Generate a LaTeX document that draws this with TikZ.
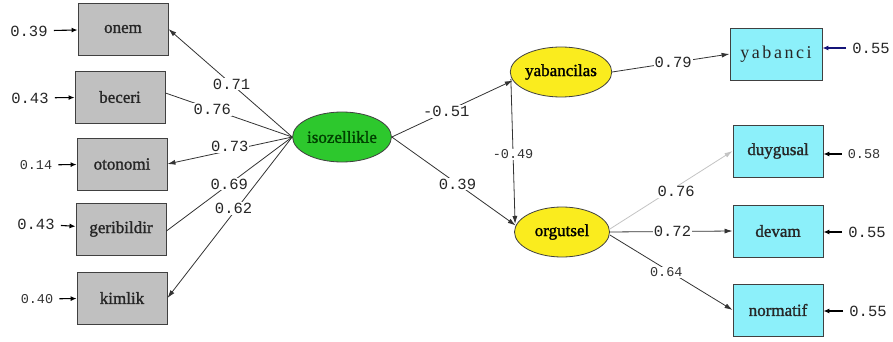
\documentclass[tikz,border=0pt]{standalone}
\usepackage{fontspec}
\setmainfont{Liberation Serif}
\newfontfamily\monof{Liberation Mono}
\newfontfamily\labf[FakeBold=1.3]{Liberation Serif}
\newfontfamily\wideserif[LetterSpace=14]{Liberation Serif}
\usetikzlibrary{shapes.geometric,arrows.meta,calc}
\definecolor{boxgray}{RGB}{192,192,192}
\definecolor{boxcyan}{RGB}{140,240,250}
\definecolor{latgreen}{RGB}{45,200,45}
\definecolor{latyellow}{RGB}{250,236,30}
\definecolor{lightline}{RGB}{195,195,195}
\definecolor{navyarrow}{RGB}{20,20,120}
\begin{document}
\begin{tikzpicture}[x=1pt,y=-1pt,
  obs/.style={draw=black!75, line width=0.9pt, fill=boxgray, minimum width=90pt, minimum height=52pt, inner sep=0pt, font=\labf\fontsize{17}{19}\selectfont, text=black!85},
  obsc/.style={obs, fill=boxcyan},
  lat/.style={ellipse, draw=black!75, line width=0.8pt, minimum width=95pt, minimum height=50pt, inner sep=0pt, font=\labf\fontsize{17}{19}\selectfont},
  numL/.style={font=\monof\fontsize{15.5}{17}\selectfont, text=black!85, inner sep=1pt},
  numS/.style={font=\monof\fontsize{13.5}{15}\selectfont, text=black!80, inner sep=1pt},
  lab/.style={fill=white, inner sep=1.5pt},
  path/.style={draw=black!80, line width=0.8pt},
  arr/.style={path, -{Latex[length=8pt,width=5pt]}},
  errarr/.style={draw=black, line width=1.1pt, -{Latex[length=6pt,width=5pt]}, shorten <=5pt}
]
\useasboundingbox (0,0) rectangle (893,342);

% observed variables, left
\node[obs] (onem) at (123,29) {onem};
\node[obs] (beceri) at (120,97) {beceri};
\node[obs] (otonomi) at (122,164) {otonomi};
\node[obs] (geri) at (121,229) {geribildir};
\node[obs] (kimlik) at (122,298) {kimlik};

% latent variables
\node[lat, fill=latgreen, text=black!75!green] (iso) at (342,137) {isozellikle};
\node[lat, fill=latyellow, minimum width=93pt] (yab) at (561,72) {yabancilas};
\node[lat, fill=latyellow] (org) at (562,232) {orgutsel};

% observed variables, right
\node[obsc, font=\wideserif\fontsize{18}{20}\selectfont, minimum width=92pt] (yabanci) at (776,54) {yabanci};
\node[obsc] (duyg) at (778,151) {duygusal};
\node[obsc] (devam) at (778,231) {devam};
\node[obsc] (norm) at (778,310) {normatif};

% error terms, left
\node[numL] (e1) at (29,31) {0.39};
\node[numL] (e2) at (30,98) {0.43};
\node[numS] (e3) at (36,165) {0.14};
\node[numL] (e4) at (36,224) {0.43};
\node[numS] (e5) at (37,299) {0.40};
\draw[errarr] (e1) -- (onem);
\draw[errarr] (e2) -- (beceri);
\draw[errarr] (e3) -- (otonomi);
\draw[errarr] (e4) -- (geri);
\draw[errarr] (e5) -- (kimlik);

% error terms, right
\node[numL] (r1) at (871,48) {0.55};
\node[numS] (r2) at (864,154) {0.58};
\node[numL] (r3) at (867,232) {0.55};
\node[numL] (r4) at (868,311) {0.55};
\draw[errarr, draw=navyarrow] (r1) -- (yabanci.east |- r1);
\draw[errarr] (r2) -- (duyg.east |- r2);
\draw[errarr] (r3) -- (devam.east |- r3);
\draw[errarr] (r4) -- (norm.east |- r4);

% loadings of isozellikle
\draw[arr] (iso.west) -- node[lab, numL, pos=0.49] {0.71} (onem.east);
\draw[path] (iso.west) -- node[lab, numL, pos=0.63] {0.76} ($(beceri.east)+(0,-4)$);
\draw[arr] (iso.west) -- node[lab, numL, pos=0.5, yshift=4pt] {0.73} (otonomi.east);
\draw[path] (iso.west) -- node[lab, numL, pos=0.5] {0.69} ($(geri.east)+(0,2)$);
\draw[arr] (iso.west) -- node[lab, numL, pos=0.47, yshift=4pt] {0.62} (kimlik.east);

% structural paths
\draw[arr] (iso.east) -- node[lab, numL, pos=0.45] {-0.51} (yab.190);
\draw[arr] (iso.east) -- node[lab, numL, pos=0.53] {0.39} (org.172);
\draw[arr] ($(yab.west)+(1,7)$) -- node[lab, numS, pos=0.52] {-0.49} ($(org.west)+(1,-8)$);

% loadings of the outcome latents
\draw[arr] (yab.east) -- node[lab, numL, pos=0.52] {0.79} (yabanci.west);
\draw[arr, draw=lightline] ($(org.east)+(0,-3)$) -- node[lab, numL, pos=0.54, yshift=-5pt] {0.76} (duyg.west);
\draw[arr] (org.east) -- node[lab, numL, pos=0.51] {0.72} (devam.west);
\draw[arr] ($(org.east)+(0,3)$) -- node[lab, numS, pos=0.46, yshift=-3pt] {0.64} (norm.west);
\end{tikzpicture}
\end{document}
